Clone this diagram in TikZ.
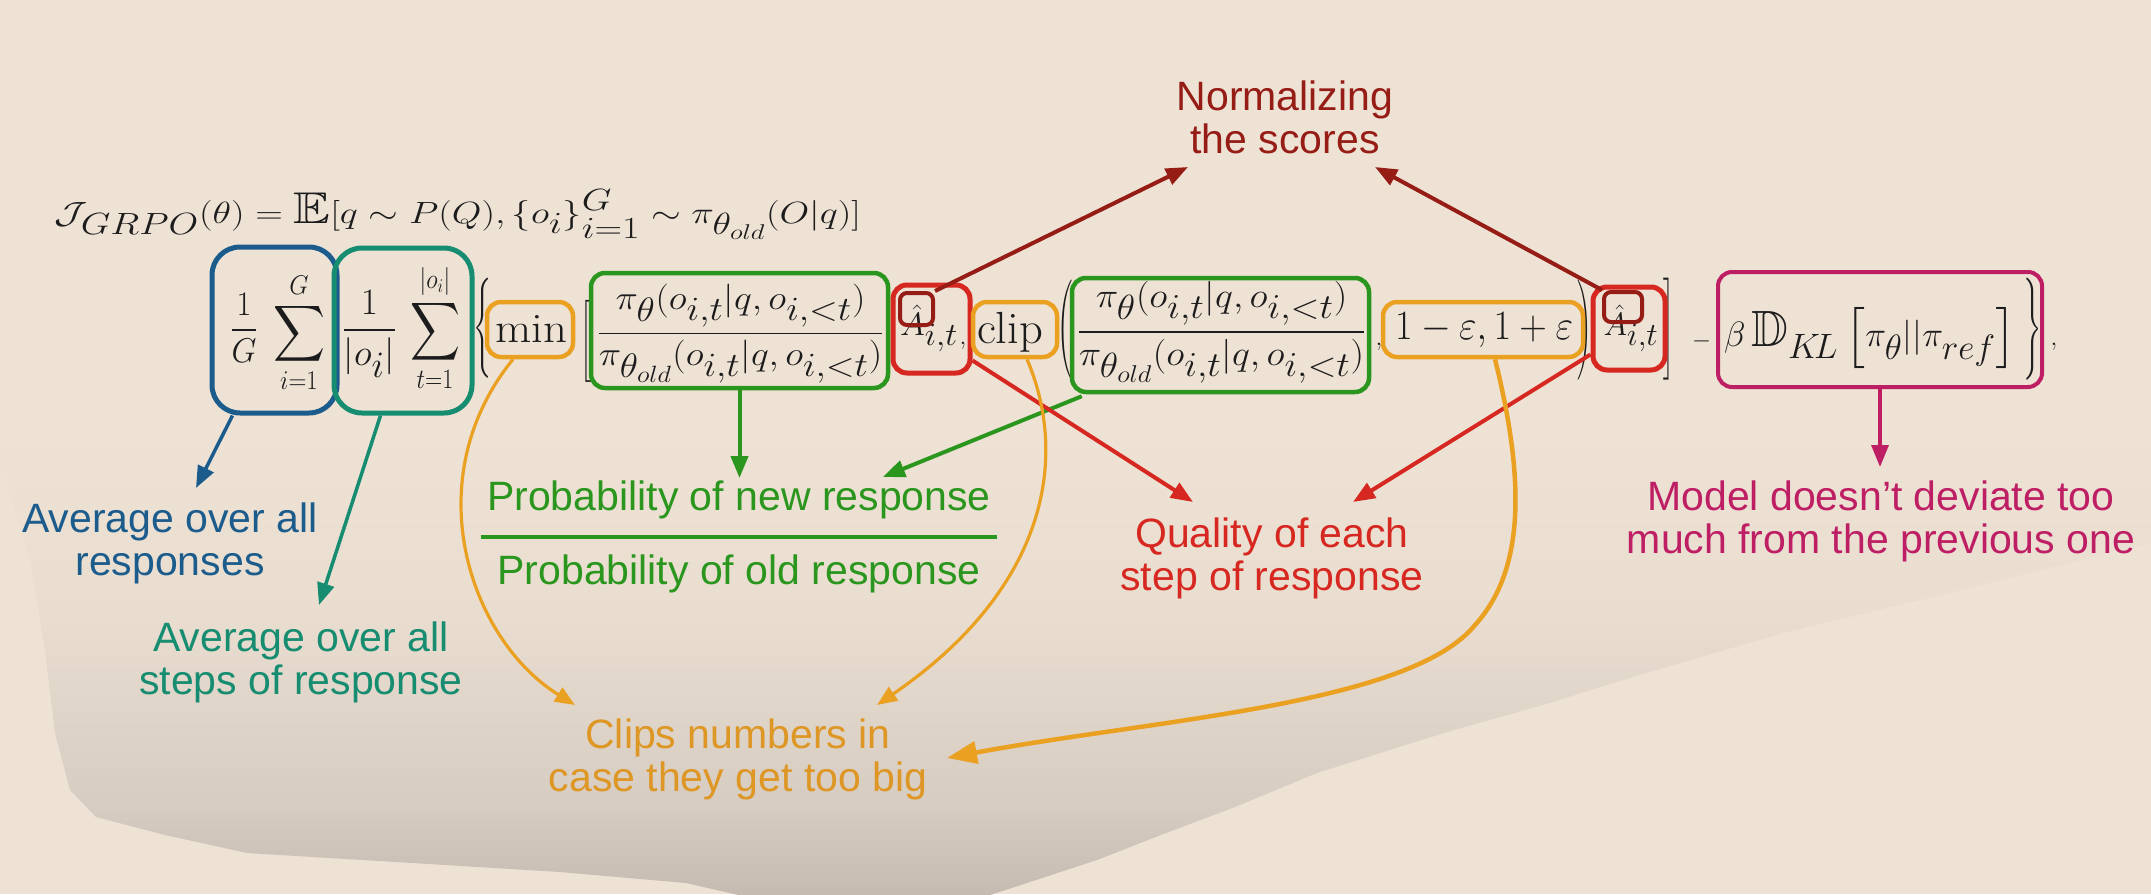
\documentclass[tikz,border=0pt]{standalone}
\usepackage{amsmath,amssymb}
\usepackage{graphicx}
\usepackage{fontspec}
\newfontfamily\labelsans{Liberation Sans}
\usetikzlibrary{arrows.meta,calc}

\definecolor{bgc}{RGB}{238,226,213}
\definecolor{blobmid}{RGB}{233,221,208}
\definecolor{blobmidb}{RGB}{214,204,193}
\definecolor{blobbot}{RGB}{196,186,176}
\definecolor{cblue}{RGB}{28,92,140}
\definecolor{cteal}{RGB}{22,140,112}
\definecolor{cgreen}{RGB}{42,150,30}
\definecolor{corange}{RGB}{234,160,32}
\definecolor{ctorange}{RGB}{222,150,36}
\definecolor{cred}{RGB}{214,40,32}
\definecolor{cdred}{RGB}{150,28,22}
\definecolor{cmag}{RGB}{190,30,100}
\definecolor{cink}{RGB}{28,28,28}

\pgfdeclareverticalshading{blobshade}{100bp}{color(0bp)=(blobbot); color(25bp)=(blobbot); color(35bp)=(blobmidb); color(55bp)=(blobmid); color(75bp)=(bgc); color(100bp)=(bgc)}

\newcommand\mfit[3]{\resizebox*{#1pt}{#2pt}{$\displaystyle #3$}}
\newcommand\twolines[2]{\begin{tabular}[t]{@{}c@{}}#1\\#2\end{tabular}}
\newcommand\lblfont{\labelsans\fontsize{41}{43}\selectfont}
\newcommand\mathsz{\fontsize{36}{40}\selectfont}
\newcommand\tall{\vrule height 40pt depth 40pt width 0pt}

\tikzset{
  hl/.style={draw, rounded corners=14pt, line width=4.5pt, inner sep=0pt},
  mp/.style={inner sep=0pt, text=cink, font=\mathsz},
  lab/.style={inner sep=0pt, font=\lblfont, anchor=base},
  arr/.style={-{Triangle[length=22pt,width=17pt]}, line width=4pt},
  curvearr/.style={-{Triangle[length=20pt,width=16pt]}, line width=3.2pt, draw=corange},
}

\begin{document}
\begin{tikzpicture}[x=1pt,y=-1pt]
\useasboundingbox (0,0) rectangle (2151,894);
\fill[bgc] (0,0) rectangle (2151,894);
\shade[shading=blobshade]
  (-10,430) -- (30,560) -- (45,650) -- (55,733) -- (70,790) -- (96,817)
  -- (165,835) -- (247,853) -- (412,863) -- (560,872) -- (686,883)
  -- (760,900) -- (975,900) -- (1097,860) -- (1166,833) -- (1235,807)
  -- (1317,773) -- (1399,747) -- (1454,730) -- (1536,707) -- (1646,673)
  -- (1783,633) -- (1920,600) -- (2160,540) -- (2160,430) -- cycle;

% ---------- formula ----------
\node[mp] (topeq) at (458,214.5) {\mfit{806}{49}{\mathcal{J}_{GRPO}(\theta)=\mathbb{E}[q\sim P(Q),\{o_i\}_{i=1}^{G}\sim\pi_{\theta_{old}}(O|q)]}};

\node[mp] (frG) at (244,327.5) {\mfit{28}{69}{\frac{1}{G}}};
\node[mp] (sumi) at (299,332.5) {\mfit{52}{121}{\sum_{i=1}^{G}}};
\node[mp] (fro) at (369.5,333.5) {\mfit{55}{87}{\frac{1}{|o_i|}}};
\node[mp] (sumt) at (435,328) {\mfit{50}{130}{\sum_{t=1}^{|o_i|}}};
\node[mp] (lbrace) at (482.5,328) {\mfit{19}{100}{\left\{\tall\right.}};
\node[mp] (mmin) at (531,328.5) {\mfit{72}{27}{\min}};
\node[mp] (lbrack) at (586,341) {\mfit{12}{82}{\left[\tall\right.}};
\node[mp] (frac1) at (740.5,333.5) {\mfit{287}{99}{\frac{\pi_\theta(o_{i,t}|q,o_{i,<t})}{\pi_{\theta_{old}}(o_{i,t}|q,o_{i,<t})}}};
\node[mp] (adv1) at (929,328.5) {\mfit{58}{47}{\hat{A}_{i,t}}};
\node[mp] (comma1) at (963,346) {$,$};
\node[mp] (clipw) at (1010,332) {\mfit{66}{40}{\mathrm{clip}}};
\node[mp] (lpar) at (1065.5,330) {\mfit{16}{100}{\left(\tall\right.}};
\node[mp] (frac2) at (1221.5,332) {\mfit{289}{102}{\frac{\pi_\theta(o_{i,t}|q,o_{i,<t})}{\pi_{\theta_{old}}(o_{i,t}|q,o_{i,<t})}}};
\node[mp] (comma2) at (1379,347) {$,$};
\node[mp] (epsw) at (1484,330.5) {\mfit{178}{35}{1-\varepsilon,1+\varepsilon}};
\node[mp] (rpar) at (1584.5,330) {\mfit{15}{100}{\left.\tall\right)}};
\node[mp] (adv2) at (1631,328.5) {\mfit{55}{47}{\hat{A}_{i,t}}};
\node[mp] (rbrack) at (1668.5,329) {\mfit{11}{102}{\left.\tall\right]}};
\node[mp] (minus) at (1701.5,341) {\resizebox{19pt}{!}{$-$}};
\node[mp] (klw) at (1870.5,338) {\resizebox{293pt}{!}{$\displaystyle\beta\,\mathbb{D}_{K\!L}\,\bigl[\pi_\theta||\pi_{ref}\bigr]$}};
\node[mp] (rbrace) at (2032.5,329) {\mfit{19}{102}{\left.\tall\right\}}};
\node[mp] (comma3) at (2054,347) {$,$};

% ---------- highlight boxes ----------
\node[hl, draw=cblue, rounded corners=28pt, line width=5pt, minimum width=125pt, minimum height=166pt] (bluebox) at (274.5,330) {};
\node[hl, draw=cteal, rounded corners=28pt, line width=5pt, minimum width=138pt, minimum height=165pt] (tealbox) at (403,330.5) {};
\node[hl, draw=corange, minimum width=86pt, minimum height=55pt] (minbox) at (530,329.5) {};
\node[hl, draw=cgreen, minimum width=297pt, minimum height=115pt] (g1box) at (739.5,330.5) {};
\node[hl, draw=cred, line width=5pt, minimum width=77pt, minimum height=88pt] (A1box) at (931.5,329) {};
\node[hl, draw=cdred, rounded corners=7pt, line width=4pt, minimum width=33pt, minimum height=32pt] (hat1box) at (916.5,309) {};
\node[hl, draw=corange, minimum width=84pt, minimum height=55pt] (clipbox) at (1015,329.5) {};
\node[hl, draw=cgreen, minimum width=297pt, minimum height=114pt] (g2box) at (1220.5,335) {};
\node[hl, draw=corange, minimum width=200pt, minimum height=55pt] (epsbox) at (1483,329.5) {};
\node[hl, draw=cred, line width=5pt, minimum width=72pt, minimum height=83pt] (A2box) at (1629,328.5) {};
\node[hl, draw=cdred, rounded corners=7pt, line width=4pt, minimum width=38pt, minimum height=30pt] (hat2box) at (1623,307) {};
\node[hl, draw=cmag, line width=4pt, minimum width=324pt, minimum height=115pt] (magbox) at (1880,329.5) {};

% ---------- labels ----------
\node[lab, text=cblue] (lblue) at (170,532) {\twolines{Average over all}{responses}};
\node[lab, text=cteal] (lteal) at (301,651) {\twolines{Average over all}{steps of response}};
\node[lab, text=cgreen] (probnew) at (739,510) {Probability of new response};
\node[lab, text=cgreen] (probold) at (739,584) {Probability of old response};
\draw[cgreen, line width=3.5pt] (481,537) -- (997,537);
\node[lab, text=ctorange] (lclip) at (738,748) {\twolines{Clips numbers in}{case they get too big}};
\node[lab, text=cdred] (lnorm) at (1285,110) {\twolines{Normalizing}{the scores}};
\node[lab, text=cred] (lqual) at (1272,547) {\twolines{Quality of each}{step of response}};
\node[lab, text=cmag] (lmodel) at (1881,510) {\twolines{Model doesn’t deviate too}{much from the previous one}};

% ---------- arrow end points ----------
\coordinate (tipblue) at (196,488);
\coordinate (tipteal) at (319,605);
\coordinate (tipg1) at (739.5,478);
\coordinate (tipg2) at (883,477);
\coordinate (tipq1) at (1193,502);
\coordinate (tipq2) at (1353,502);
\coordinate (tipn1) at (1188,167);
\coordinate (tipn2) at (1375,167);
\coordinate (tipmag) at (1880,467);
\coordinate (tipc1) at (575,705);
\coordinate (tipc2) at (877,705);
\coordinate (tipc3) at (947,758);
\coordinate (midc3) at (1475,625);

% ---------- arrows ----------
\draw[arr, cblue, line width=3.5pt] ($(bluebox.south west)+(23,0)$) -- (tipblue);
\draw[arr, cteal, line width=3.5pt] ($(tealbox.south west)+(49,0)$) -- (tipteal);
\draw[arr, cgreen] (g1box.south) -- (tipg1);
\draw[arr, cgreen] ($(g2box.south west)+(12,2)$) -- (tipg2);
\draw[arr, cred] ($(A1box.south east)+(0,-15)$) -- (tipq1);
\draw[arr, cred] ($(A2box.south west)+(0,-18)$) -- (tipq2);
\draw[arr, cdred] (hat1box.north east) -- (tipn1);
\draw[arr, cdred] (hat2box.north west) -- (tipn2);
\draw[arr, cmag, line width=3.5pt] (magbox.south) -- (tipmag);

\draw[curvearr] ($(minbox.south)+(-17,0)$) .. controls (415,480) and (470,640) .. (tipc1);
\draw[curvearr] ($(clipbox.south)+(12,0)$) .. controls (1070,460) and (1045,590) .. (tipc2);
\draw[corange, line width=4.5pt, -{Triangle[length=30pt,width=22pt]}] ($(epsbox.south)+(12,0)$) .. controls (1525,480) and (1525,570) .. (midc3) .. controls (1410,705) and (1150,720) .. (tipc3);
\end{tikzpicture}
\end{document}
